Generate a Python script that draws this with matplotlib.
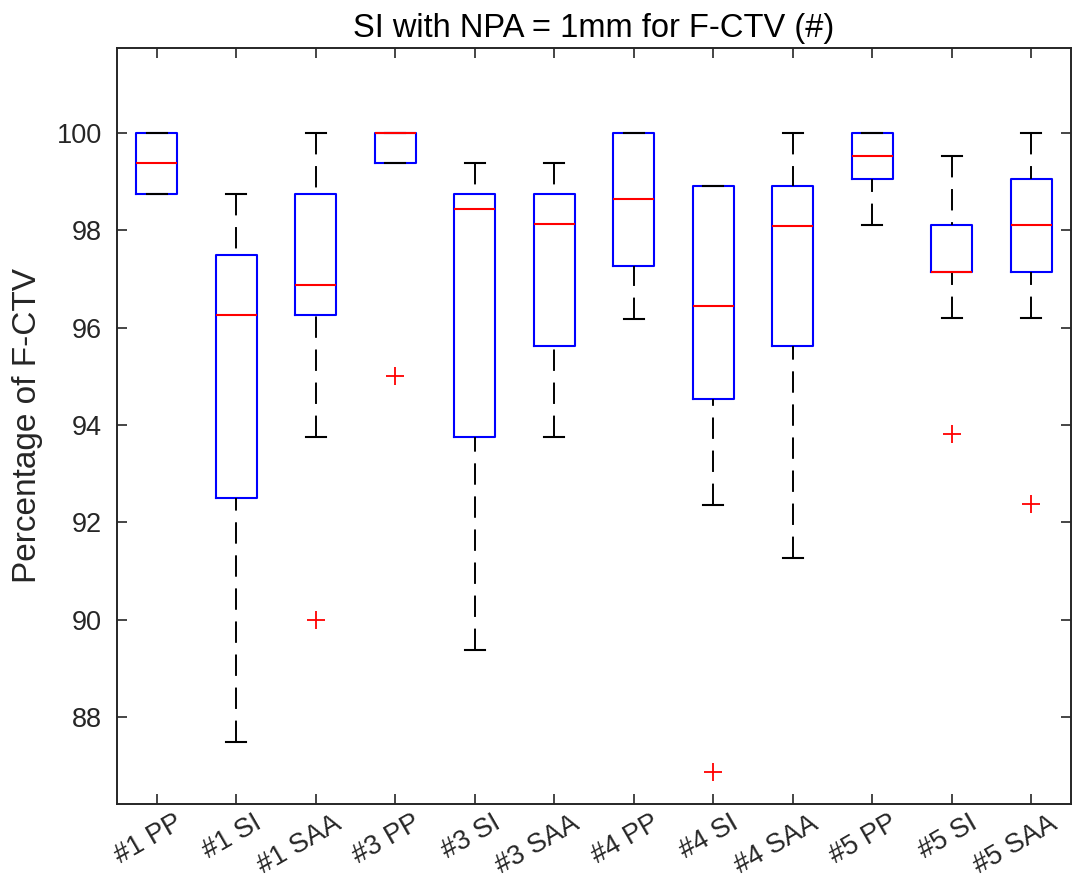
import matplotlib
matplotlib.use("Agg")
import matplotlib.pyplot as plt
import matplotlib.transforms as mtrans

plt.rcParams['font.family'] = ['Liberation Sans', 'DejaVu Sans']

# ============================
# DATA
# ============================
labels = ['#1 PP', '#1 SI', '#1 SAA', '#3 PP', '#3 SI', '#3 SAA',
          '#4 PP', '#4 SI', '#4 SAA', '#5 PP', '#5 SI', '#5 SAA']
medians = [99.375, 96.25, 96.875, 100.0, 98.4375, 98.125,
           98.64, 96.45, 98.09, 99.52, 97.14, 98.10]
q1 = [98.75, 92.5, 96.25, 99.375, 93.75, 95.625,
      97.27, 94.53, 95.62, 99.05, 97.14, 97.14]
q3 = [100.0, 97.5, 98.75, 100.0, 98.75, 98.75,
      100.0, 98.91, 98.91, 100.0, 98.10, 99.05]
whis_lo = [98.75, 87.5, 93.75, 99.375, 89.375, 93.75,
           96.18, 92.36, 91.27, 98.10, 96.19, 96.19]
whis_hi = [100.0, 98.75, 100.0, 100.0, 99.375, 99.375,
           100.0, 98.91, 100.0, 100.0, 99.52, 100.0]
outliers = [[], [], [90.0], [95.0], [], [],
            [], [86.88], [], [], [93.81], [92.38]]

stats = []
for i in range(len(labels)):
    stats.append(dict(label=labels[i], med=medians[i], q1=q1[i], q3=q3[i],
                      whislo=whis_lo[i], whishi=whis_hi[i], fliers=outliers[i]))

# ============================
# DRAW
# ============================
fig = plt.figure(figsize=(10.77, 8.77), dpi=100)
ax = fig.add_axes([0.1086, 0.0833, 0.8858, 0.8620])

parts = ax.bxp(stats, widths=0.52, showfliers=True,
               boxprops=dict(color='#0000ff', linewidth=1.5),
               medianprops=dict(color='#ff0000', linewidth=1.5),
               whiskerprops=dict(color='black', linewidth=1.4, linestyle=(0, (11, 6))),
               capprops=dict(color='black', linewidth=1.5),
               capwidths=0.25,
               flierprops=dict(marker='+', markeredgecolor='#ff0000', markersize=13,
                               markeredgewidth=1.3, linestyle='none'))

# dash pattern starts at the caps, like MATLAB
for w in parts['whiskers']:
    w.set_ydata(w.get_ydata()[::-1])

ax.set_xlim(0.5, 12.5)
ax.set_ylim(86.22, 101.74)
ax.set_yticks([88, 90, 92, 94, 96, 98, 100])

for s in ax.spines.values():
    s.set_color('#262626')
    s.set_linewidth(1.4)
ax.tick_params(direction='in', length=7.2, width=1.2, colors='#262626',
               top=True, right=True, labelsize=19.5)
ax.tick_params(axis='y', pad=11)
ax.tick_params(axis='x', pad=4.5)

offset = mtrans.ScaledTranslation(0.17, 0, fig.dpi_scale_trans)
ax.set_xticklabels(labels, rotation=30, ha='right', va='top', rotation_mode='anchor')
for lab in ax.get_xticklabels():
    lab.set_transform(lab.get_transform() + offset)

ax.set_ylabel('Percentage of F-CTV', fontsize=24, color='#262626', labelpad=10)
ax.set_title('SI with NPA = 1mm for F-CTV (#)', fontsize=23.5, color='black', pad=8)

fig.savefig('out.png', dpi=100)
